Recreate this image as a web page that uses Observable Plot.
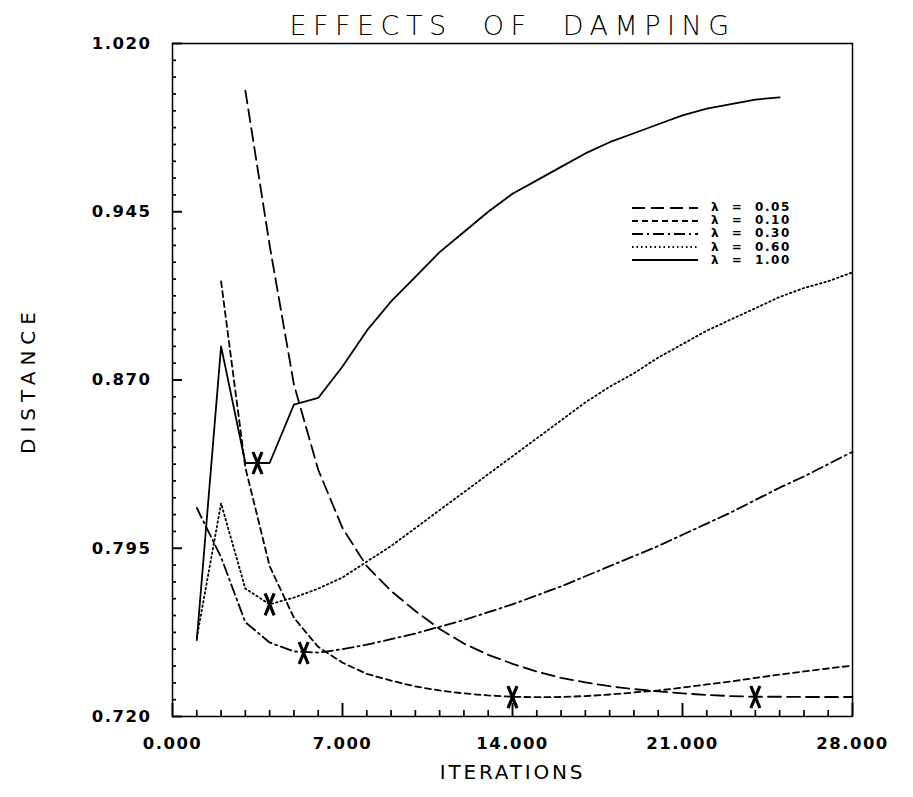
<!DOCTYPE html>
<html><head><meta charset="utf-8">
<script src="https://cdn.jsdelivr.net/npm/d3@7"></script>
<script src="https://cdn.jsdelivr.net/npm/@observablehq/plot@0.6"></script>
<style>
body{margin:0;background:#fff;}
#wrap{position:relative;width:913px;height:797px;}
#legend{position:absolute;left:632px;top:201px;font-family:"DejaVu Sans";font-weight:bold;font-size:12px;color:#000;}
.row{display:flex;align-items:center;height:13.2px;overflow:visible;}
.row svg{display:block;margin-right:13px;}
.row span{white-space:pre;letter-spacing:1.6px;line-height:11px;display:block;}
</style></head><body><div id="wrap"><div id="legend"></div></div>
<script>
// ---- data ----
const seriesNames = ["λ = 0.05", "λ = 0.10", "λ = 0.30", "λ = 0.60", "λ = 1.00"];
const dashStyles  = ["13,6", "6,4", "11,4,2,4", "1.5,3", "none"];

const lam005_x = [3,4,5,6,7,8,9,10,11,12,13,14,15,16,17,18,19,20,21,22,23,24,25,26,27,28];
const lam005_y = [0.999,0.930,0.868,0.830,0.804,0.787,0.776,0.767,0.759,0.7525,0.7475,0.7435,0.7400,0.7372,0.7352,0.7335,0.7322,0.7312,0.7303,0.7296,0.7291,0.7288,0.7288,0.7287,0.7287,0.7287];

const lam010_x = [2,3,4,5,6,7,8,9,10,11,12,13,14,15,16,17,18,19,20,21,22,23,24,25,26,27,28];
const lam010_y = [0.914,0.831,0.787,0.764,0.751,0.744,0.739,0.736,0.7334,0.7316,0.7303,0.7294,0.7288,0.7286,0.7287,0.7291,0.7298,0.7307,0.7316,0.7329,0.7343,0.7356,0.7372,0.7387,0.7401,0.7414,0.7427];

const lam030_x = [1,2,3,4,5,6,7,8,9,10,11,12,13,14,15,16,17,18,19,20,21,22,23,24,25,26,27,28];
const lam030_y = [0.813,0.791,0.762,0.753,0.749,0.7485,0.750,0.752,0.7545,0.757,0.760,0.763,0.7665,0.770,0.774,0.778,0.7825,0.787,0.7915,0.796,0.801,0.806,0.811,0.8165,0.822,0.827,0.8325,0.838];

const lam060_x = [1,2,3,4,5,6,7,8,9,10,11,12,13,14,15,16,17,18,19,20,21,22,23,24,25,26,27,28];
const lam060_y = [0.755,0.815,0.777,0.770,0.773,0.777,0.782,0.789,0.796,0.804,0.812,0.820,0.828,0.836,0.844,0.852,0.860,0.867,0.873,0.880,0.886,0.892,0.897,0.902,0.907,0.911,0.914,0.918];

const lam100_x = [1,2,3,4,5,6,7,8,9,10,11,12,13,14,15,16,17,18,19,20,21,22,23,24,25];
const lam100_y = [0.754,0.885,0.833,0.833,0.859,0.862,0.876,0.892,0.905,0.916,0.927,0.936,0.945,0.953,0.959,0.965,0.971,0.976,0.980,0.984,0.988,0.991,0.993,0.995,0.996];

// minimum markers (X)
const minima_x = [24, 14, 5.4, 4, 3.5];
const minima_y = [0.7287, 0.7286, 0.7483, 0.770, 0.833];

const xMajorTicks = [0, 7, 14, 21, 28];
const xMinorTicks = [1,2,3,4,5,6,8,9,10,11,12,13,15,16,17,18,19,20,22,23,24,25,26,27];
const yMajorTicks = [0.720, 0.795, 0.870, 0.945, 1.020];
const yMinorTicks = [0.7275,0.735,0.7425,0.750,0.7575,0.765,0.7725,0.780,0.7875,0.8025,0.810,0.8175,0.825,0.8325,0.840,0.8475,0.855,0.8625,0.8775,0.885,0.8925,0.900,0.9075,0.915,0.9225,0.930,0.9375,0.9525,0.960,0.9675,0.975,0.9825,0.990,0.9975,1.005,1.0125];

// ---- build ----
const xs = [lam005_x, lam010_x, lam030_x, lam060_x, lam100_x];
const ys = [lam005_y, lam010_y, lam030_y, lam060_y, lam100_y];
const W = 913, H = 797, mL = 172, mR = 61, mT = 43, mB = 81;
const fw = W - mL - mR, fh = H - mT - mB;
const xDom = [0, 28], yDom = [0.72, 1.02];
const pxY = (yDom[1] - yDom[0]) / fh;   // data units per pixel (y)
const pxX = (xDom[1] - xDom[0]) / fw;   // data units per pixel (x)

const lineMarks = xs.map((xarr, k) => {
  const data = xarr.map((x, i) => ({x, y: ys[k][i]}));
  return Plot.line(data, {x: "x", y: "y", stroke: "black", strokeWidth: 1.8,
    strokeDasharray: dashStyles[k] === "none" ? null : dashStyles[k], curve: "linear"});
});

const xSymbol = {draw(ctx) {ctx.moveTo(-4.5,-11); ctx.lineTo(4.5,11); ctx.moveTo(4.5,-11); ctx.lineTo(-4.5,11);}};
const minima = minima_x.map((x, i) => ({x, y: minima_y[i]}));

const chart = Plot.plot({
  width: W, height: H,
  marginLeft: mL, marginRight: mR, marginTop: mT, marginBottom: mB,
  x: {domain: xDom, axis: null},
  y: {domain: yDom, axis: null},
  style: {fontFamily: "DejaVu Sans", background: "white", color: "black"},
  marks: [
    Plot.ruleX(xMinorTicks, {x: d => d, y1: yDom[0], y2: yDom[0] + 6 * pxY, stroke: "black", strokeWidth: 1.7}),
    Plot.ruleX(xMajorTicks, {x: d => d, y1: yDom[0], y2: yDom[0] + 13 * pxY, stroke: "black", strokeWidth: 1.9}),
    Plot.ruleY(yMinorTicks, {y: d => d, x1: xDom[0], x2: xDom[0] + 4 * pxX, stroke: "black", strokeWidth: 1.7}),
    Plot.ruleY(yMajorTicks, {y: d => d, x1: xDom[0], x2: xDom[0] + 10 * pxX, stroke: "black", strokeWidth: 1.9}),
    Plot.axisX(xMajorTicks, {tickSize: 0, tickPadding: 21, tickFormat: d3.format(".3f"), fontSize: 16.5, fontWeight: "bold", label: null}),
    Plot.axisY(yMajorTicks, {tickSize: 0, tickPadding: 21, tickFormat: d3.format(".3f"), fontSize: 16.5, fontWeight: "bold", label: null}),
    ...lineMarks,
    Plot.dot(minima, {x: "x", y: "y", symbol: xSymbol, r: 5, stroke: "black", strokeWidth: 3.2, fill: "none"}),
    Plot.frame({stroke: "black", strokeWidth: 1.5}),
    Plot.text(["EFFECTS  OF  DAMPING"], {frameAnchor: "top", dy: -28, fontSize: 27, fontWeight: 300, text: d => d}),
    Plot.text(["ITERATIONS"], {frameAnchor: "bottom", dy: 62, fontSize: 20, text: d => d}),
    Plot.text(["DISTANCE"], {frameAnchor: "left", dx: -144, rotate: -90, textAnchor: "middle", fontSize: 20, text: d => d})
  ]
});
// letter spacing for title, axis titles and tick labels
chart.querySelectorAll("text").forEach(t => {
  const s = t.textContent;
  if (s.startsWith("EFFECTS")) t.setAttribute("letter-spacing", "6.5");
  if (s === "ITERATIONS") t.setAttribute("letter-spacing", "2.8");
  if (s === "DISTANCE") t.setAttribute("letter-spacing", "6");
  if (/^\d+\.\d{3}$/.test(s)) t.setAttribute("letter-spacing", "1.5");
});
document.getElementById("wrap").prepend(chart);

// legend
const legend = document.getElementById("legend");
seriesNames.forEach((name, k) => {
  const row = document.createElement("div");
  row.className = "row";
  const dash = dashStyles[k] === "none" ? "" : `stroke-dasharray="${dashStyles[k]}"`;
  row.innerHTML = `<svg width="66" height="6"><line x1="0" y1="3" x2="66" y2="3" stroke="black" stroke-width="1.8" ${dash}/></svg><span>${name.replace(" = ", "  =  ")}</span>`;
  legend.appendChild(row);
});
</script></body></html>
